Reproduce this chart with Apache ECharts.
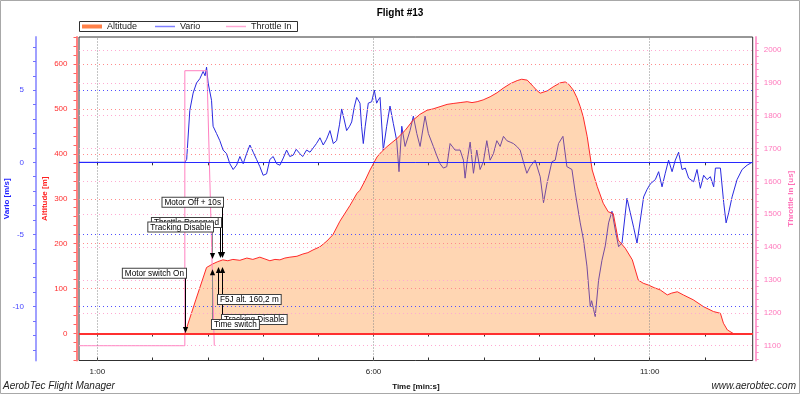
<!DOCTYPE html>
<html><head><meta charset="utf-8">
<script src="https://cdn.jsdelivr.net/npm/echarts@6/dist/echarts.min.js"></script>
<style>html,body{margin:0;padding:0;background:#fff}#c{width:800px;height:395px}</style>
</head><body><div id="c"></div>
<script>
// ---- data (time in seconds) ----
const altitudeData = [[40,0],[155,0],[166.9,75],[178.6,147],[185.4,155],[190.8,160],[196.3,164],[201.7,162],[207.2,165],[214.8,163],[222.4,168],[228.9,165],[236.5,170],[242,166],[247.4,162],[252.9,165],[258.3,164],[263.7,168],[269.2,170],[276.8,172],[283.3,177],[288.7,180],[294.2,186],[301.8,193],[309.4,206],[315.9,220],[323.5,250],[334.4,285],[342,312],[345.3,319],[350.7,340],[356.2,364],[363.8,393],[369,405],[374.7,416],[380,425],[385.5,434],[394.3,452],[403,475],[410.6,488],[418.2,497],[424.7,500],[432.3,505],[439.9,510],[446.5,512],[454.1,514],[461.7,516],[467,514],[472.6,516],[479.1,520],[486.7,527],[494.3,536],[500.8,546],[508.5,556],[516.1,563],[521,566],[527,564],[533.5,550],[537,542],[541.1,535],[548.7,540],[555.2,549],[562.8,558],[568.3,560],[572,555],[577,542],[581,525],[584.6,505],[587.8,483],[592.2,438],[597.6,364],[603.1,327],[609.6,290],[615,271],[620.5,267],[625.9,208],[633.5,190],[641.2,164],[647.7,119],[653,112],[658.6,108],[665,102],[671.6,97],[679.2,86],[684,90],[690.1,93],[696.6,86],[707.5,75],[718.4,60],[729.3,49],[736.9,45],[740.2,23],[744.5,8],[751,0],[772,0]];

const varioData = [[40,0],[155,0],[157,0.2],[160.4,3.6],[164,4.8],[167.7,5.5],[171.3,5.8],[174.9,6.3],[177,6.0],[178.6,6.6],[180.3,5.5],[184,4.3],[185.7,2.5],[189.4,2.0],[193,1.5],[196.6,0.85],[200.3,0.6],[203.9,-0.1],[207.5,-0.5],[211.2,-0.2],[214.8,0.4],[218.4,-0.1],[222.1,0.6],[225.7,1.2],[229.3,0.7],[232.9,0.2],[236.5,-0.3],[240.1,-0.9],[243.8,-0.8],[247.4,0.2],[251,0.4],[254.7,-0.1],[258.3,-0.2],[262,0.3],[265.6,0.85],[269,0.4],[272.8,0.5],[276,0.9],[280,0.6],[283,0.4],[287.3,0.85],[291,0.7],[294.5,1.0],[298,1.3],[301.8,1.7],[305.4,1.2],[309,1.6],[312.7,2.2],[316.3,1.3],[319.9,1.5],[323,2.6],[325.4,3.7],[328,3.0],[330.8,2.2],[334,2.5],[336.3,2.8],[339,3.8],[341.7,4.5],[345.3,4.1],[347,2.5],[348.9,1.3],[351,2.5],[354.3,4.1],[358,4.2],[360.9,5.0],[363.4,4.1],[365,4.3],[367.1,4.5],[370.6,0.85],[374.3,2.5],[377.9,3.9],[381.5,2.7],[385.2,1.5],[387.7,-0.65],[390.7,2.5],[394.3,1.1],[399.7,2.2],[403.3,3.2],[407,2.0],[410.6,1.1],[416,3.2],[419.6,2.0],[425,1.1],[428.5,0.5],[432.3,-0.1],[435.9,-0.4],[439.6,-0.3],[443.2,1.3],[448.6,0.85],[454.1,0.85],[457.7,0.15],[459.5,-1.1],[462,0.2],[465,1.4],[468.6,-0.76],[472.2,0.85],[475.8,-0.5],[479.4,0.04],[483.1,1.5],[486.7,0.15],[490.3,0.6],[494,1.5],[497.6,1.1],[501.2,1.8],[504.9,1.5],[508.5,1.4],[512,1.3],[515.7,1.1],[519.3,0.85],[523,0.0],[526.6,-0.76],[530.2,-0.3],[535.6,0.15],[541.1,-1.0],[544.7,-2.8],[548.4,-1.5],[553.8,0.04],[557.4,0.15],[561,1.3],[565.8,1.8],[570.1,-0.3],[575.6,-0.5],[579.2,-2.1],[584.6,-4.2],[588.2,-5.4],[591.9,-7.2],[595.5,-10.0],[597,-9.6],[599.1,-10.2],[600.9,-10.7],[604.5,-8.2],[608.2,-6.8],[611.8,-5.8],[615.4,-4.2],[619.1,-3.4],[622.7,-4.7],[626.3,-5.85],[630,-5.6],[635.4,-2.5],[639,-3.5],[642.6,-4.5],[646.3,-5.6],[649.9,-4.0],[653.5,-2.4],[657.1,-1.9],[660.7,-1.5],[666.2,-1.2],[669.8,-0.65],[673.5,-1.7],[677,-0.76],[680.6,0.15],[684.4,-0.65],[687.9,0.15],[691.5,0.7],[695.2,-0.5],[698.8,-0.4],[702.4,-1.1],[707.8,-1.35],[711.5,-0.5],[715.1,-1.8],[718.7,-0.9],[722.4,-1.2],[726,-1.0],[729.6,-1.7],[731.5,-0.4],[736.9,-0.4],[740.5,-2.8],[743.1,-4.2],[745.9,-3.5],[749.6,-2.4],[755,-1.2],[760.5,-0.5],[765.9,-0.2],[771.4,0],[772,0]];

const throttleData = [[40,1100],[155,1100],[155,1937],[179,1937],[187,1100]];

// ---- ticks / labels ----
const xTickValues = [60,120,180,240,300,360,420,480,540,600,660,720];
const xLabelValues = [60,360,660];
const altTickValues = [-60,-40,-20,0,20,40,60,80,100,120,140,160,180,200,220,240,260,280,300,320,340,360,380,400,420,440,460,480,500,520,540,560,580,600,620,640,660];
const altLabelValues = [0,100,200,300,400,500,600];
const varioTickValues = [-13,-12,-11,-10,-9,-8,-7,-6,-5,-4,-3,-2,-1,0,1,2,3,4,5,6,7,8];
const varioLabelValues = [-10,-5,0,5];
const throttleTickValues = [1060,1080,1100,1120,1140,1160,1180,1200,1220,1240,1260,1280,1300,1320,1340,1360,1380,1400,1420,1440,1460,1480,1500,1520,1540,1560,1580,1600,1620,1640,1660,1680,1700,1720,1740,1760,1780,1800,1820,1840,1860,1880,1900,1920,1940,1960,1980,2000,2020,2040];
const throttleLabelValues = [1100,1200,1300,1400,1500,1600,1700,1800,1900,2000];

// ---- annotations (time s, tip altitude m, box edge altitude m) ----
const annotationTexts = ['Motor switch On','Throttle Reserved','Tracking Disable','Motor Off + 10s','Tracking Disable','Time switch','F5J alt. 160,2 m'];
const annotationTimes = [155, 193.6, 184.9, 195.5, 195.5, 184.9, 191.2];
const annotationTips  = [1, 168, 166, 168, 148, 143, 148];
const annotationBoxes = [124, 237, 227, 282, 41, 30, 86];
const annotationDirs  = ['down','down','down','down','up','up','up'];
const annotationLineColors = ['#000','#000','#888','#000','#000','#888','#000'];

const FONT = '"Liberation Sans", Arial, sans-serif';
function fmtTime(v){ const m = Math.floor(v/60), s = Math.round(v%60); return m + ':' + (s<10?'0':'') + s; }
function plain(v){ return String(v); }

const chart = echarts.init(document.getElementById('c'), null, {renderer:'canvas'});
const grid = {left:79, right:47.3, top:37, bottom:34.5, show:true, borderColor:'#303030', borderWidth:1, backgroundColor:'#fff', containLabel:false, outerBoundsMode:'none'};

function dotted(values, key, color, type){
  return values.map(v => ({[key]: v, lineStyle:{color:color, type:type||[1,3], width:1}}));
}

const option = {
  animation:false,
  backgroundColor:'#fff',
  textStyle:{fontFamily:FONT},
  title:{text:'Flight #13', left:'center', top:3, textStyle:{fontSize:10, fontWeight:'bold', color:'#000', fontFamily:FONT}},
  legend:[
    {left:82, top:22, padding:0, itemWidth:20, itemHeight:4, selectedMode:false, textStyle:{fontSize:9, color:'#222', fontFamily:FONT},
     data:[{name:'Altitude', icon:'rect', itemStyle:{color:'#ff8048'}}]},
    {left:155, top:22, padding:0, itemWidth:20, itemHeight:1.5, selectedMode:false, textStyle:{fontSize:9, color:'#222', fontFamily:FONT},
     data:[{name:'Vario', icon:'rect', itemStyle:{color:'#8080ff'}}]},
    {left:226, top:22, padding:0, itemWidth:20, itemHeight:1.5, selectedMode:false, textStyle:{fontSize:9, color:'#222', fontFamily:FONT},
     data:[{name:'Throttle In', icon:'rect', itemStyle:{color:'#ffa8d4'}}]}
  ],
  grid: grid,
  xAxis:[
    {type:'value', min:40, max:772, position:'bottom',
     axisLine:{show:false},
     axisTick:{show:true, customValues:xTickValues, length:3, lineStyle:{color:'#303030'}},
     axisLabel:{customValues:xLabelValues, formatter:fmtTime, fontSize:8, color:'#222', margin:7, fontFamily:FONT},
     splitLine:{show:false},
     name:'Time [min:s]', nameLocation:'middle', nameGap:22, nameMoveOverlap:false,
     nameTextStyle:{fontSize:8, fontWeight:'bold', color:'#111', fontFamily:FONT}},
    {type:'value', min:40, max:772, position:'top',
     axisLine:{show:false}, axisTick:{show:true, inside:true, customValues:xTickValues, length:3, lineStyle:{color:'#303030'}},
     axisLabel:{show:false}, splitLine:{show:false}},
    {type:'value', min:40, max:772, position:'bottom',
     axisLine:{show:false}, axisTick:{show:true, inside:true, customValues:xTickValues, length:3, lineStyle:{color:'#303030'}},
     axisLabel:{show:false}, splitLine:{show:false}}
  ],
  yAxis:[
    {type:'value', min:-60, max:660, position:'left', offset:2.5,
     axisLine:{show:true, lineStyle:{color:'#ff8080', width:2}},
     axisTick:{show:true, customValues:altTickValues, length:3, lineStyle:{color:'#ff6060'}},
     axisLabel:{customValues:altLabelValues, formatter:plain, color:'#ff3030', fontSize:8, margin:9, fontFamily:FONT},
     splitLine:{show:false},
     name:'Altitude [m]', nameLocation:'middle', nameGap:28, nameRotate:90, nameMoveOverlap:false,
     nameTextStyle:{color:'#ff2020', fontSize:8, fontWeight:'bold', fontFamily:FONT}},
    {type:'value', min:-13.745, max:8.69, position:'left', offset:43,
     axisLine:{show:true, lineStyle:{color:'#a0a0ff', width:2}},
     axisTick:{show:true, customValues:varioTickValues, length:3, lineStyle:{color:'#7070ff'}},
     axisLabel:{customValues:varioLabelValues, formatter:plain, color:'#4848ff', fontSize:8, margin:12, fontFamily:FONT},
     splitLine:{show:false},
     name:'Vario [m/s]', nameLocation:'middle', nameGap:25, nameRotate:90, nameMoveOverlap:false,
     nameTextStyle:{color:'#2020ff', fontSize:8, fontWeight:'bold', fontFamily:FONT}},
    {type:'value', min:1055, max:2039.6, position:'right', offset:3,
     axisLine:{show:true, lineStyle:{color:'#ffa0d0', width:2}},
     axisTick:{show:true, customValues:throttleTickValues, length:3, lineStyle:{color:'#ff90c8'}},
     axisLabel:{customValues:throttleLabelValues, formatter:plain, color:'#ff78bc', fontSize:8, margin:8, fontFamily:FONT},
     splitLine:{show:false},
     name:'Throttle In [us]', nameLocation:'middle', nameGap:31, nameRotate:90, nameMoveOverlap:false,
     nameTextStyle:{color:'#ff70b8', fontSize:8, fontWeight:'bold', fontFamily:FONT}}
  ],
  series:[
    {name:'Vario', type:'line', xAxisIndex:0, yAxisIndex:1, data:varioData, showSymbol:false, symbol:'none', z:1,
     lineStyle:{color:'#2a2ae0', width:1}, itemStyle:{color:'#8080ff'}},
    {name:'Altitude', type:'line', xAxisIndex:0, yAxisIndex:0, data:altitudeData, showSymbol:false, symbol:'none', z:2,
     lineStyle:{color:'#ff2a2a', width:1}, itemStyle:{color:'#ff8048'},
     areaStyle:{color:'rgba(255,140,40,0.5)', origin:0}},
    {name:'Throttle In', type:'line', xAxisIndex:0, yAxisIndex:2, data:throttleData, showSymbol:false, symbol:'none', z:2,
     lineStyle:{color:'#ff80c0', width:1}, itemStyle:{color:'#ffa8d4'}},
    {name:'gridAlt', type:'line', xAxisIndex:0, yAxisIndex:0, data:[], z:3,
     markLine:{silent:true, symbol:['none','none'], label:{show:false}, animation:false,
       data: dotted([100,200,300,400,500,600],'yAxis','#ff8c8c')
         .concat(dotted(xLabelValues,'xAxis','#888888',[1,2]))
         .concat([{yAxis:0, lineStyle:{color:'#ff3030', type:'solid', width:2}}])}},
    {name:'gridThr', type:'line', xAxisIndex:0, yAxisIndex:2, data:[], z:3,
     markLine:{silent:true, symbol:['none','none'], label:{show:false}, animation:false,
       data: dotted(throttleLabelValues,'yAxis','#ffaad2')}},
    {name:'gridVario', type:'line', xAxisIndex:0, yAxisIndex:1, data:[], z:3,
     markLine:{silent:true, symbol:['none','none'], label:{show:false}, animation:false,
       data: dotted([-10,-5,5],'yAxis','#5050ff')
         .concat([{yAxis:0, lineStyle:{color:'#2828ff', type:'solid', width:1}}])}},
    {name:'annotations', type:'custom', xAxisIndex:0, yAxisIndex:0, z:10, clip:false, silent:true,
     encode:{x:0, y:1},
     data: annotationTimes.map((t,i)=>[t, annotationTips[i], annotationBoxes[i]]),
     renderItem: function(params, api){
       const i = params.dataIndex;
       const p = api.coord([api.value(0), api.value(1)]);
       const b = api.coord([api.value(0), api.value(2)]);
       const x = Math.round(p[0]) + 0.5;
       const down = annotationDirs[i] === 'down';
       const ah = 6, aw = 2.6;
       const tipY = p[1];
       const baseY = down ? tipY - ah : tipY + ah;
       const zb = i*3;
       return {type:'group', children:[
         {type:'line', z2:zb, shape:{x1:x, y1:b[1], x2:x, y2:baseY}, style:{stroke:annotationLineColors[i], lineWidth:1}},
         {type:'polygon', z2:zb+1, shape:{points:[[x-aw,baseY],[x+aw,baseY],[x,tipY]]}, style:{fill:'#000'}},
         {type:'text', z2:zb+2, x: down ? x+0.5 : x-0.5, y: b[1],
          style:{text:annotationTexts[i], align: down ? 'right' : 'left', verticalAlign: down ? 'bottom' : 'top',
                 font:'8.2px ' + FONT, fill:'#000', backgroundColor:'#fff', borderColor:'#404040', borderWidth:1,
                 padding:[1,2,0,2], lineHeight:8}}
       ]};
     }}
  ],
  graphic:[
    {type:'rect', z:-1, shape:{x:0.5, y:0.5, width:799, height:393}, style:{fill:'none', stroke:'#a8a8a8', lineWidth:1}},
    {type:'rect', z:0, shape:{x:79.5, y:21.5, width:218, height:10}, style:{fill:'#fff', stroke:'#303030', lineWidth:1}},
    {type:'text', left:3, top:381, style:{text:'AerobTec Flight Manager', font:'italic 10px ' + FONT, fill:'#222'}},
    {type:'text', right:4, top:381, style:{text:'www.aerobtec.com', font:'italic 10px ' + FONT, fill:'#222'}}
  ]
};
chart.setOption(option);
</script>
</body></html>
